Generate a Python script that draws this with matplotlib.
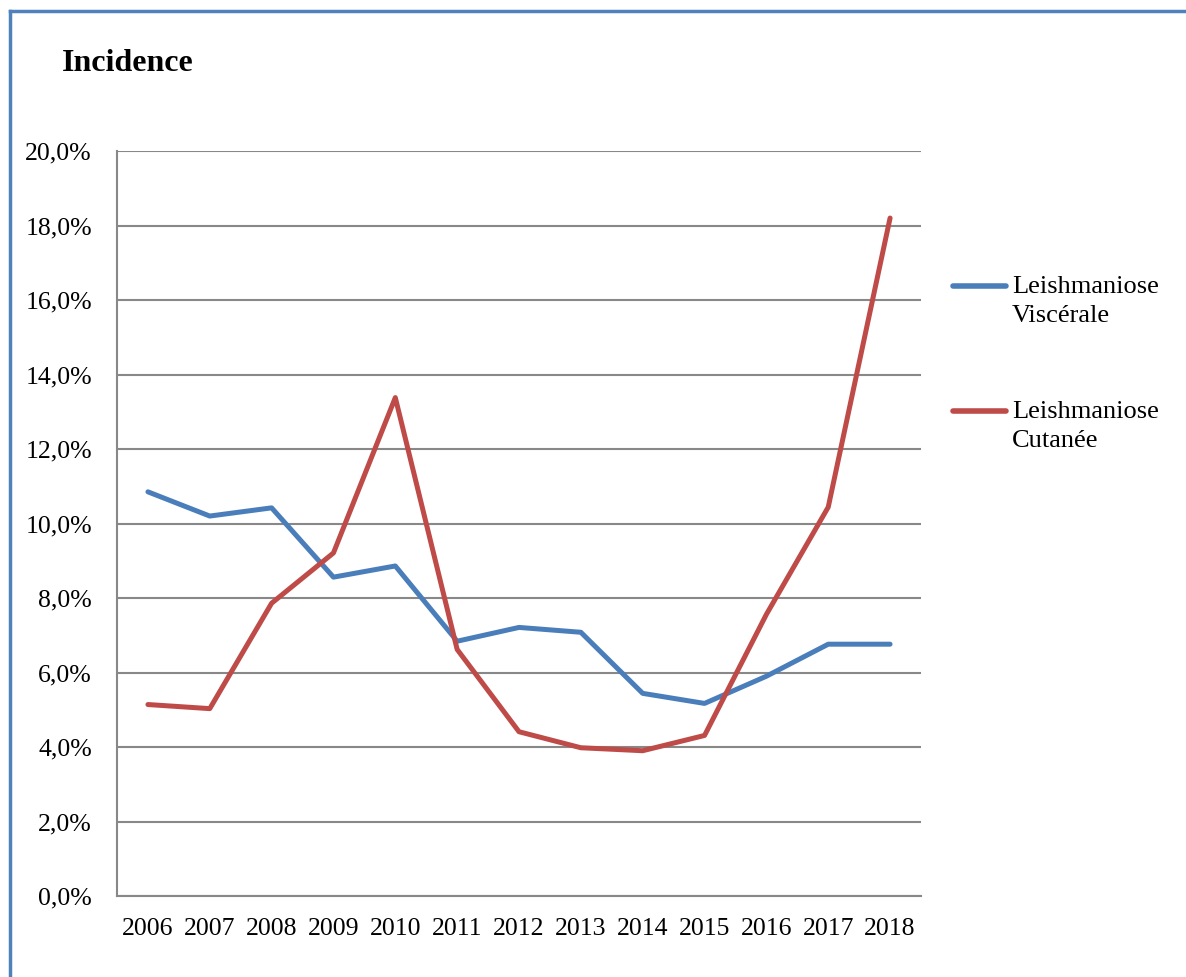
import matplotlib
matplotlib.use("Agg")
import matplotlib.pyplot as plt
from matplotlib.lines import Line2D
from matplotlib.ticker import FuncFormatter

plt.rcParams['font.family'] = ['Liberation Serif', 'DejaVu Serif']

# Données (incidence en %)
years = ["2006", "2007", "2008", "2009", "2010", "2011", "2012",
         "2013", "2014", "2015", "2016", "2017", "2018"]
visc = [10.85, 10.2, 10.42, 8.56, 8.86, 6.84, 7.21, 7.08, 5.44, 5.17, 5.9, 6.76, 6.76]
cuta = [5.14, 5.03, 7.86, 9.21, 13.38, 6.62, 4.41, 3.98, 3.9, 4.31, 7.56, 10.44, 18.2]
labels = ["Leishmaniose\nViscérale", "Leishmaniose\nCutanée"]
colors = ["#4A7EBB", "#BE4B48"]

W, H = 1186, 977
fig = plt.figure(figsize=(W / 100, H / 100), dpi=100)

# zone de tracé (en pixels)
left, right, top, bottom = 117, 921, 151, 896
ax = fig.add_axes([left / W, 1 - bottom / H, (right - left) / W, (bottom - top) / H])

x = list(range(len(years)))
for vals, c in zip([visc, cuta], colors):
    ax.plot(x, vals, color=c, lw=3.6, solid_joinstyle='round', solid_capstyle='round')

ax.set_xlim(-0.5, len(years) - 0.5)
ax.set_ylim(0, 20)
ax.set_yticks(range(0, 21, 2))
ax.yaxis.set_major_formatter(FuncFormatter(lambda v, p: f"{v:.1f}%".replace(".", ",")))
ax.set_xticks(x)
ax.set_xticklabels(years)
ax.tick_params(length=0, labelsize=18.5)
ax.tick_params(axis='y', pad=18)
ax.tick_params(axis='x', pad=16)
ax.grid(axis='y', color='#888888', lw=1.5)
ax.set_axisbelow(True)
for s in ['top', 'right']:
    ax.spines[s].set_visible(False)
for s in ['left', 'bottom']:
    ax.spines[s].set_color('#888888')
    ax.spines[s].set_linewidth(1.5)

# titre
fig.text(62 / W, 1 - 49 / H, "Incidence", fontsize=23, fontweight='bold', va='top', ha='left')

# légende
for i, (lab, c) in enumerate(zip(labels, colors)):
    yc = 286 + i * 125
    fig.add_artist(Line2D([953 / W, 1006 / W], [1 - yc / H, 1 - yc / H], color=c, lw=4,
                          solid_capstyle='round', transform=fig.transFigure))
    fig.text(1012 / W, 1 - (yc - 10) / H, lab, fontsize=19, va='top', ha='left', linespacing=1.4)

# cadre bleu
fig.add_artist(Line2D([10 / W, 10 / W], [0, 1 - 11 / H], color='#4F81BD', lw=2.5,
                      transform=fig.transFigure))
fig.add_artist(Line2D([10 / W, 1], [1 - 11 / H, 1 - 11 / H], color='#4F81BD', lw=2.5,
                      transform=fig.transFigure))

fig.savefig("out.png", dpi=100)
